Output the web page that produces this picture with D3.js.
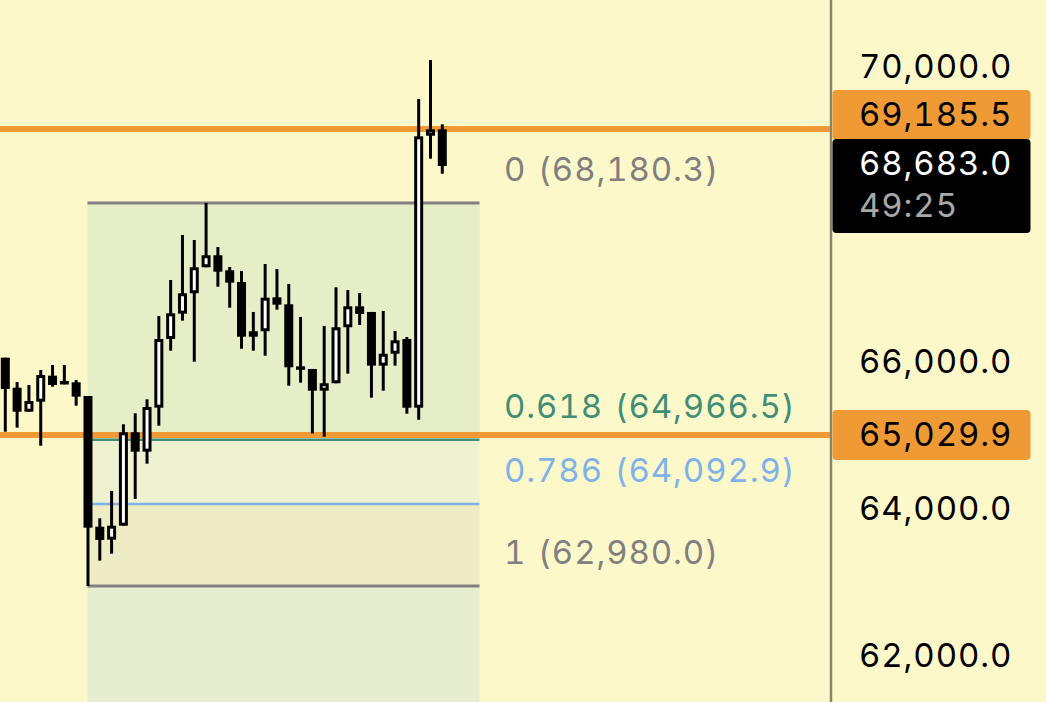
<!DOCTYPE html>
<html>
<head>
<meta charset="utf-8">
<script src="https://cdn.jsdelivr.net/npm/d3@7"></script>
<style>
  html, body { margin: 0; padding: 0; background: #fdf8c9; overflow: hidden; }
  text { font-family: Inter, Roboto, sans-serif; font-feature-settings: 'tnum' 1; }
</style>
</head>
<body>
<svg id="chart" width="1046" height="702"></svg>
<script>
// candles, oldest first
const opens = [66080,65673,65347,65483,65836,65764,65746,65560,63785,63609,63799,65067,64804,65401,66334,66678,66955,67308,67471,67267,67108,66439,66439,66900,66805,65963,65927,65632,65733,66493,66778,66701,65972,66134,66334,65401,69094,69181];
const highs = [66080,65750,65709,65913,65981,65981,65777,65560,63899,64270,65176,65325,65515,66646,67135,67746,67678,68180,67583,67312,67257,66701,67352,67285,67081,66633,65927,66511,67036,66999,66959,66701,66714,66443,66361,69593,70122,69249];
const lows = [65075,65130,65347,64885,65686,65719,65428,62980,63324,63419,63799,64162,64641,65157,66175,66583,66026,67308,67044,66759,66202,66175,66107,66732,65700,65741,65051,65007,65733,65863,66524,65537,65632,65972,65320,65238,68782,68578];
const closes = [65655,65347,65492,65845,65709,65719,65551,63772,63605,63799,65067,64804,65411,66334,66683,66955,67308,67471,67248,67099,66365,66365,66895,66800,65950,65927,65632,65733,66493,66778,66674,65972,66134,66316,65401,69086,69181,68683];

// fib retracement levels
const fibLevels = [0, 0.618, 0.786, 1];
const fibPrices = [68180.3, 64966.5, 64092.9, 62980.0];
const fibColors = ['#808080', '#3f8f77', '#7fb3e8', '#808080'];
const fibLineW = [3, 2.5, 2.5, 3];
const zoneFills = ['#e6eec8', '#eff2d1', '#eeecc4', '#e7eecf'];

const priceTicks = [70000, 66000, 64000, 62000];
const hLines = [69185.5, 65029.9];
const lastPrice = 68683.0;
const countdown = '49:25';

const W = 1046, H = 702, axisX = 831;
const svg = d3.select('#chart');
const fmt = d3.format(',.1f');

const x = d3.scaleLinear().domain([0, opens.length - 1]).range([5.3, 442.3]);
const y = d3.scaleLinear().domain([70000, 62980]).range([69, 586]);

svg.append('rect').attr('width', W).attr('height', H).attr('fill', '#fdf8c9');

// zones
const zoneX0 = 87.5, zoneX1 = 479.5;
const zoneEdges = fibPrices.concat([y.invert(H)]);
svg.append('g').selectAll('rect')
  .data(zoneFills)
  .enter().append('rect')
  .attr('x', zoneX0)
  .attr('width', zoneX1 - zoneX0)
  .attr('y', (d, i) => y(zoneEdges[i]))
  .attr('height', (d, i) => y(zoneEdges[i + 1]) - y(zoneEdges[i]))
  .attr('fill', d => d);

svg.append('g').selectAll('line')
  .data(fibPrices)
  .enter().append('line')
  .attr('x1', zoneX0).attr('x2', zoneX1)
  .attr('y1', d => y(d)).attr('y2', d => y(d))
  .attr('stroke', (d, i) => fibColors[i])
  .attr('stroke-width', (d, i) => fibLineW[i]);

// horizontal orange lines
svg.append('g').selectAll('line')
  .data(hLines)
  .enter().append('line')
  .attr('x1', 0).attr('x2', axisX)
  .attr('y1', d => y(d)).attr('y2', d => y(d))
  .attr('stroke', '#f09a35')
  .attr('stroke-width', 6);

// fib labels
svg.append('g').selectAll('text')
  .data(fibPrices)
  .enter().append('text')
  .attr('x', 504)
  .attr('y', d => y(d) - 22)
  .attr('font-size', 33)
  .attr('letter-spacing', 0.9)
  .attr('word-spacing', 2)
  .attr('fill', (d, i) => fibColors[i])
  .text((d, i) => `${fibLevels[i]} (${fmt(d)})`);

// candles
const candles = svg.append('g').selectAll('g')
  .data(opens.map((o, i) => ({ i, o, h: highs[i], l: lows[i], c: closes[i] })))
  .enter().append('g');

candles.append('line')
  .attr('x1', d => x(d.i)).attr('x2', d => x(d.i))
  .attr('y1', d => y(d.h)).attr('y2', d => y(d.l))
  .attr('stroke', '#000')
  .attr('stroke-width', 3);

candles.append('rect')
  .attr('x', d => x(d.i) - 3)
  .attr('width', 6)
  .attr('y', d => y(Math.max(d.o, d.c)) + 1.5)
  .attr('height', d => Math.max(y(Math.min(d.o, d.c)) - y(Math.max(d.o, d.c)) - 3, 0.5))
  .attr('fill', d => (d.c > d.o ? '#fff' : '#000'))
  .attr('stroke', '#000')
  .attr('stroke-width', 3);

// price axis
svg.append('rect').attr('x', axisX).attr('width', W - axisX).attr('height', H).attr('fill', '#fdf8c9');

const axis = svg.append('g')
  .attr('transform', `translate(${axisX},0)`)
  .call(d3.axisRight(y).tickValues(priceTicks).tickFormat(fmt).tickSize(0).tickPadding(28));
axis.select('.domain').remove();
axis.selectAll('text')
  .attr('font-size', 33)
  .attr('letter-spacing', 0.9)
  .attr('fill', '#000')
  .attr('dy', '0.26em');
svg.append('line')
  .attr('x1', axisX).attr('x2', axisX)
  .attr('y1', 0).attr('y2', H)
  .attr('stroke', '#8b8468')
  .attr('stroke-width', 2.5);

// price tags
const tagX = axisX + 1.5, tagW = 198;
const tags = [
  { top: y(hLines[0]) - 39, h: 50, fill: '#f09a35' },
  { top: y(hLines[1]) - 25, h: 50, fill: '#f09a35' }
];
svg.append('g').selectAll('rect')
  .data(tags)
  .enter().append('rect')
  .attr('x', tagX).attr('width', tagW)
  .attr('y', d => d.top).attr('height', d => d.h)
  .attr('rx', 4)
  .attr('fill', d => d.fill);

svg.append('rect')
  .attr('x', tagX).attr('width', tagW)
  .attr('y', y(lastPrice) - 27).attr('height', 94)
  .attr('rx', 4)
  .attr('fill', '#000');

const tagText = (txt, top, color) => svg.append('text')
  .attr('x', 859)
  .attr('y', top)
  .attr('font-size', 33)
  .attr('letter-spacing', 0.9)
  .attr('fill', color)
  .text(txt);

tagText(fmt(hLines[0]), y(hLines[0]) - 3, '#000');
tagText(fmt(hLines[1]), y(hLines[1]) + 11, '#000');
tagText(fmt(lastPrice), y(lastPrice) + 9, '#fff');
tagText(countdown, y(lastPrice) + 51, '#a8a8a8');
</script>
</body>
</html>
